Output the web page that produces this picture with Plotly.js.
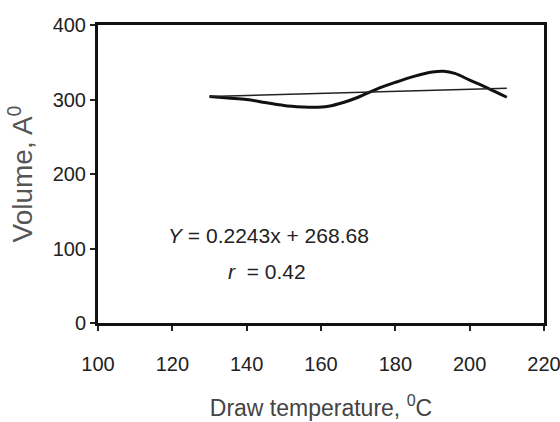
<!DOCTYPE html>
<html>
<head>
<meta charset="utf-8">
<script src="https://cdn.plot.ly/plotly-3.0.1.min.js"></script>
<style>html,body{margin:0;padding:0;background:#fff;}#chart{width:560px;height:422px;}</style>
</head>
<body>
<div id="chart"></div>
<script>
// Measured curve (Draw temperature vs Volume)
const temps = [130, 135, 140, 145, 150, 155, 158, 162, 166, 170, 175, 180, 185, 190, 193, 196, 200, 205, 210];
const volumes = [304, 302, 300, 296, 292, 290, 289.5, 291, 296, 303, 314, 323, 331, 337, 338, 335, 326, 315, 303];
// Trend line endpoints as drawn
const trendX = [130, 210];
const trendY = [304, 315];
const xTicks = [100, 120, 140, 160, 180, 200, 220];
const yTicks = [0, 100, 200, 300, 400];
const eqText = "<i>Y</i> = 0.2243x + 268.68";
const rText = "<i>r</i>  = 0.42";

const FONT = "'Liberation Sans', Arial, sans-serif";

const data = [
  {x: temps, y: volumes, mode: 'lines', line: {color: '#111', width: 3, shape: 'spline'}, hoverinfo: 'skip'},
  {x: trendX, y: trendY, mode: 'lines', line: {color: '#222', width: 1.5}, hoverinfo: 'skip'}
];

const axisCommon = {
  showgrid: false, zeroline: false, showline: true, linecolor: '#111', linewidth: 3,
  mirror: true, ticks: 'outside', ticklen: 5, tickwidth: 2, tickcolor: '#222',
  ticklabeloverflow: 'allow',
  tickfont: {family: FONT, size: 20, color: '#222'}
};

const layout = {
  width: 560, height: 422,
  margin: {l: 98, r: 16, t: 25, b: 99},
  paper_bgcolor: '#fff', plot_bgcolor: '#fff',
  showlegend: false,
  xaxis: Object.assign({}, axisCommon, {
    range: [100, 220], tickvals: xTicks, ticktext: xTicks.map(String),
    ticklabelstandoff: 16,
    title: {text: 'Draw temperature, <sup>0</sup>C', font: {family: FONT, size: 23, color: '#444'}, standoff: 26}
  }),
  yaxis: Object.assign({}, axisCommon, {
    range: [0, 400], tickvals: yTicks, ticktext: yTicks.map(String),
    title: {text: 'Volume, A<sup>0</sup>', font: {family: FONT, size: 28, color: '#555'}, standoff: 12}
  }),
  annotations: [
    {x: 146, y: 117, xref: 'x', yref: 'y', text: eqText, showarrow: false, font: {family: FONT, size: 21, color: '#222'}},
    {x: 145.5, y: 68.5, xref: 'x', yref: 'y', text: rText, showarrow: false, font: {family: FONT, size: 21, color: '#222'}}
  ]
};

Plotly.newPlot('chart', data, layout, {displayModeBar: false, staticPlot: true});
</script>
</body>
</html>
